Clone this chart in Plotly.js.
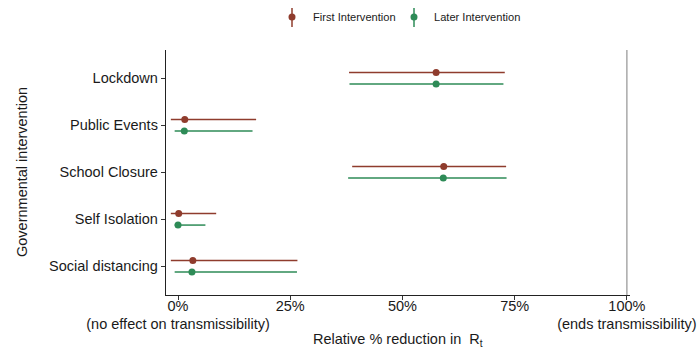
<!DOCTYPE html>
<html>
<head>
<meta charset="utf-8">
<script src="https://cdn.plot.ly/plotly-3.0.1.min.js"></script>
<style>html,body{margin:0;padding:0;background:#fff;}#chart{width:700px;height:350px;}</style>
</head>
<body>
<div id="chart"></div>
<script>
// Categories (top to bottom)
const categories = ["Lockdown", "Public Events", "School Closure", "Self Isolation", "Social distancing"];
// First Intervention: mean, lower, upper (% reduction in Rt)
const firstMean  = [57.5, 1.5, 59.2, 0.15, 3.3];
const firstLower = [38.1, -1.6, 38.8, -1.6, -1.6];
const firstUpper = [72.8, 17.4, 73.1, 8.5, 26.6];
// Later Intervention
const laterMean  = [57.5, 1.4, 59.1, 0.0, 3.1];
const laterLower = [38.2, -0.75, 37.9, -0.75, -0.75];
const laterUpper = [72.5, 16.6, 73.2, 6.1, 26.5];
const xTickVals = [0, 25, 50, 75, 100];
const xTickText = ["0%<br>(no effect on transmissibility)", "25%", "50%", "75%", "100%<br>(ends transmissibility)"];
const seriesNames = ["First Intervention", "Later Intervention"];

const colFirst = "#8f3c2d";
const colLater = "#2e8b57";
const n = categories.length;
const basePos = categories.map((c, i) => n - i);
const dodge = 0.123;

function trace(mean, lo, hi, col, off, name) {
  return {
    type: "scatter", mode: "markers", name: name, showlegend: false,
    x: mean, y: basePos.map(v => v + off),
    marker: {color: col, size: 7},
    error_x: {type: "data", symmetric: false,
      array: hi.map((h, i) => h - mean[i]),
      arrayminus: lo.map((l, i) => mean[i] - l),
      color: col, thickness: 1.5, width: 0},
    hoverinfo: "x+y"
  };
}

const data = [
  trace(firstMean, firstLower, firstUpper, colFirst, dodge, seriesNames[0]),
  trace(laterMean, laterLower, laterUpper, colLater, -dodge, seriesNames[1])
];

const font = {family: "Liberation Sans, Arial, sans-serif", color: "#1a1a1a"};
// legend drawn manually (pointrange style key)
function px2paperX(p) { return (p - 166) / 464; }
function px2paperY(p) { return (295 - p) / 245; }
const legendItems = [
  {x: 292, tx: 310.5, col: colFirst, label: seriesNames[0]},
  {x: 414, tx: 432, col: colLater, label: seriesNames[1]}
];
const shapes = [
  {type: "line", xref: "x", yref: "paper", x0: 100, x1: 100, y0: 0, y1: 1,
   line: {color: "#a9a9a9", width: 1.5}, layer: "below"}
];
const annotations = [
  {text: "Governmental intervention", xref: "paper", yref: "paper",
   x: px2paperX(22), y: px2paperY(172), textangle: -90, showarrow: false,
   font: Object.assign({}, font, {size: 14.5}), xanchor: "center", yanchor: "middle"},
  {text: "Relative % reduction in  R<sub>t</sub>", xref: "paper", yref: "paper",
   x: px2paperX(398), y: px2paperY(340), showarrow: false,
   font: Object.assign({}, font, {size: 14.5}), xanchor: "center", yanchor: "middle"}
];
legendItems.forEach(it => {
  shapes.push({type: "line", xref: "paper", yref: "paper",
    x0: px2paperX(it.x), x1: px2paperX(it.x), y0: px2paperY(8), y1: px2paperY(27),
    line: {color: it.col, width: 1.5}});
  shapes.push({type: "circle", xref: "paper", yref: "paper", xsizemode: "pixel", ysizemode: "pixel",
    xanchor: px2paperX(it.x), yanchor: px2paperY(17), x0: -3.5, x1: 3.5, y0: -3.5, y1: 3.5,
    fillcolor: it.col, line: {color: it.col, width: 0}});
  annotations.push({text: it.label, xref: "paper", yref: "paper",
    x: px2paperX(it.tx), y: px2paperY(17), xanchor: "left", yanchor: "middle", showarrow: false,
    font: Object.assign({}, font, {size: 11.1})});
});

const layout = {
  width: 700, height: 350,
  margin: {l: 166, r: 70, t: 50, b: 55},
  paper_bgcolor: "#fff", plot_bgcolor: "#fff",
  font: font,
  showlegend: false,
  xaxis: {
    range: [-2.68, 100.7], tickvals: xTickVals, ticktext: xTickText,
    showgrid: false, zeroline: false, showline: true, linecolor: "#222", linewidth: 1.2,
    ticks: "outside", ticklen: 4, tickcolor: "#333", tickwidth: 1,
    ticklabelstandoff: -7,
    tickfont: Object.assign({}, font, {size: 14.5})
  },
  yaxis: {
    range: [0.39, 5.6], tickvals: basePos, ticktext: categories,
    showgrid: false, zeroline: false, showline: true, linecolor: "#222", linewidth: 1.2,
    ticks: "outside", ticklen: 4, tickcolor: "#333", tickwidth: 1,
    tickfont: Object.assign({}, font, {size: 14.5})
  },
  shapes: shapes,
  annotations: annotations
};

Plotly.newPlot("chart", data, layout, {displayModeBar: false, staticPlot: true});
</script>
</body>
</html>
